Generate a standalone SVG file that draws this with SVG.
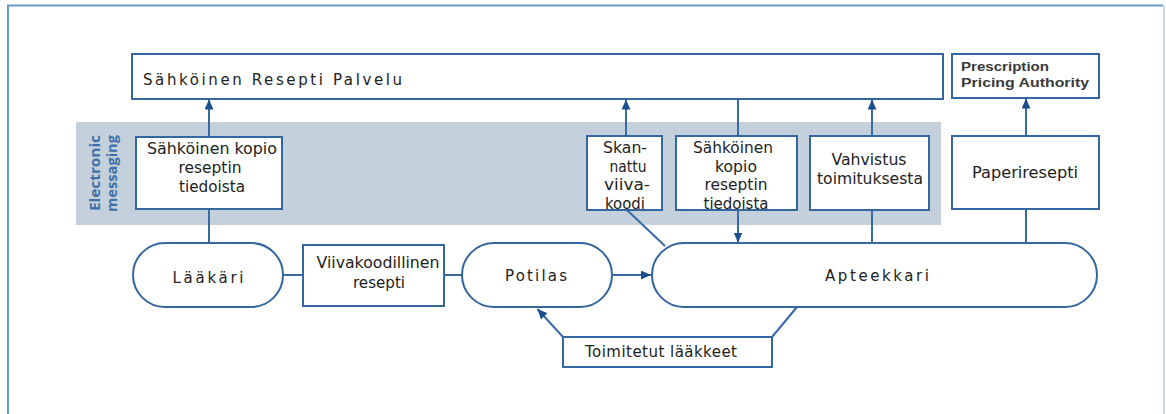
<svg xmlns="http://www.w3.org/2000/svg" width="1166" height="414" viewBox="0 0 1166 414">
  <defs>
    <marker id="arrow" markerUnits="userSpaceOnUse" markerWidth="10" markerHeight="9" refX="10" refY="4.5" orient="auto">
      <path d="M0,0 L10,4.5 L0,9 z" fill="#1b4f8e"/>
    </marker>
    <style>
      .frame { fill: none; stroke: #6b99cd; stroke-width: 2; }
      .band { fill: #c4d1dd; }
      .node { fill: #ffffff; stroke: #34679f; stroke-width: 2; }
      .lbl { font-family: "DejaVu Sans", Verdana, sans-serif; font-size: 15px; fill: #222222; text-anchor: middle; }
      .bold { font-family: "Liberation Sans", Arial, sans-serif; font-weight: bold; font-size: 13px; fill: #3a3a3a; }
      .side { font-family: "Open Sans", "Liberation Sans", sans-serif; font-weight: bold; font-size: 14px; fill: #3f70a8; }
      .link { fill: none; stroke: #3a6aa3; stroke-width: 2; }
      .arrow { marker-end: url(#arrow); }
    </style>
  </defs>

  <rect width="1166" height="414" fill="#ffffff"/>

  <!-- outer frame -->
  <path class="frame" d="M8,414 V5.5 H1163"/>
  <path d="M1164,5.5 V414" fill="none" stroke="#c9dbee" stroke-width="2"/>

  <!-- electronic messaging band -->
  <rect class="band" x="76" y="122" width="865" height="103"/>
  <g id="band-label">
    <text class="side" transform="translate(100,211) rotate(-90)" textLength="76" lengthAdjust="spacingAndGlyphs">Electronic</text>
    <text class="side" transform="translate(116.5,212) rotate(-90)" textLength="77" lengthAdjust="spacingAndGlyphs">messaging</text>
  </g>

  <!-- connectors -->
  <g id="connectors">
    <path class="link" d="M209,243 V209"/>
    <path class="link arrow" d="M209,137 V99.5"/>
    <path class="link" d="M283,275 H303"/>
    <path class="link" d="M444,275 H462"/>
    <path class="link arrow" d="M612,275 H651"/>
    <path class="link arrow" d="M626,136 V99.5"/>
    <path class="link" d="M627,210 L665,246"/>
    <path class="link" d="M738,99 V136"/>
    <path class="link arrow" d="M738,210 V242.5"/>
    <path class="link" d="M872,243 V210"/>
    <path class="link arrow" d="M872,136 V99.5"/>
    <path class="link" d="M1026,243 V209"/>
    <path class="link arrow" d="M1026,136 V98.5"/>
    <path class="link" d="M797,307 L772,337"/>
    <path class="link arrow" d="M563,337 L537.5,309"/>
  </g>

  <!-- nodes -->
  <g id="palvelu">
    <rect class="node" x="132" y="54" width="811" height="45"/>
    <text class="lbl" x="143" y="85" style="text-anchor:start" textLength="259" lengthAdjust="spacing">Sähköinen Resepti Palvelu</text>
  </g>

  <g id="ppa">
    <rect class="node" x="952" y="54" width="147" height="44"/>
    <text class="bold" x="961" y="70.5" textLength="88" lengthAdjust="spacingAndGlyphs">Prescription</text>
    <text class="bold" x="961" y="87" textLength="128" lengthAdjust="spacingAndGlyphs">Pricing Authority</text>
  </g>

  <g id="kopio-laakari">
    <rect class="node" x="136" y="137" width="146" height="72"/>
    <text class="lbl" x="212" y="154" textLength="130" lengthAdjust="spacingAndGlyphs">Sähköinen kopio</text>
    <text class="lbl" x="210" y="173" textLength="63" lengthAdjust="spacingAndGlyphs">reseptin</text>
    <text class="lbl" x="212" y="192" textLength="66" lengthAdjust="spacingAndGlyphs">tiedoista</text>
  </g>

  <g id="skannattu">
    <rect class="node" x="587" y="136" width="75" height="74"/>
    <text class="lbl" x="625" y="153" textLength="44" lengthAdjust="spacingAndGlyphs">Skan-</text>
    <text class="lbl" x="628" y="172" textLength="37" lengthAdjust="spacingAndGlyphs">nattu</text>
    <text class="lbl" x="627" y="190" textLength="46" lengthAdjust="spacingAndGlyphs">viiva-</text>
    <text class="lbl" x="625" y="208.5" textLength="40" lengthAdjust="spacingAndGlyphs">koodi</text>
  </g>

  <g id="kopio-apteekki">
    <rect class="node" x="676" y="136" width="121" height="74"/>
    <text class="lbl" x="733" y="153" textLength="80" lengthAdjust="spacingAndGlyphs">Sähköinen</text>
    <text class="lbl" x="736" y="172" textLength="42" lengthAdjust="spacingAndGlyphs">kopio</text>
    <text class="lbl" x="736" y="190" textLength="63" lengthAdjust="spacingAndGlyphs">reseptin</text>
    <text class="lbl" x="736" y="208.5" textLength="65" lengthAdjust="spacingAndGlyphs">tiedoista</text>
  </g>

  <g id="vahvistus">
    <rect class="node" x="810" y="136" width="119" height="74"/>
    <text class="lbl" x="869" y="165" textLength="75" lengthAdjust="spacingAndGlyphs">Vahvistus</text>
    <text class="lbl" x="870" y="184" textLength="106" lengthAdjust="spacingAndGlyphs">toimituksesta</text>
  </g>

  <g id="paperiresepti">
    <rect class="node" x="952" y="136" width="147" height="73"/>
    <text class="lbl" x="1025" y="178" textLength="106" lengthAdjust="spacingAndGlyphs">Paperiresepti</text>
  </g>

  <g id="laakari">
    <rect class="node" x="133" y="243" width="150" height="64" rx="32" ry="32"/>
    <text class="lbl" x="208" y="283" textLength="71" lengthAdjust="spacing">Lääkäri</text>
  </g>

  <g id="viivakoodillinen">
    <rect class="node" x="303" y="245" width="141" height="61"/>
    <text class="lbl" x="378" y="268" textLength="123" lengthAdjust="spacingAndGlyphs">Viivakoodillinen</text>
    <text class="lbl" x="379" y="288" textLength="52" lengthAdjust="spacingAndGlyphs">resepti</text>
  </g>

  <g id="potilas">
    <rect class="node" x="462" y="243" width="150" height="64" rx="32" ry="32"/>
    <text class="lbl" x="536" y="281" textLength="62" lengthAdjust="spacing">Potilas</text>
  </g>

  <g id="apteekkari">
    <rect class="node" x="652" y="243" width="445" height="64" rx="32" ry="32"/>
    <text class="lbl" x="877" y="281" textLength="104" lengthAdjust="spacing">Apteekkari</text>
  </g>

  <g id="toimitetut">
    <rect class="node" x="563" y="337" width="209" height="30"/>
    <text class="lbl" x="661" y="357" textLength="152" lengthAdjust="spacing">Toimitetut lääkkeet</text>
  </g>
</svg>
